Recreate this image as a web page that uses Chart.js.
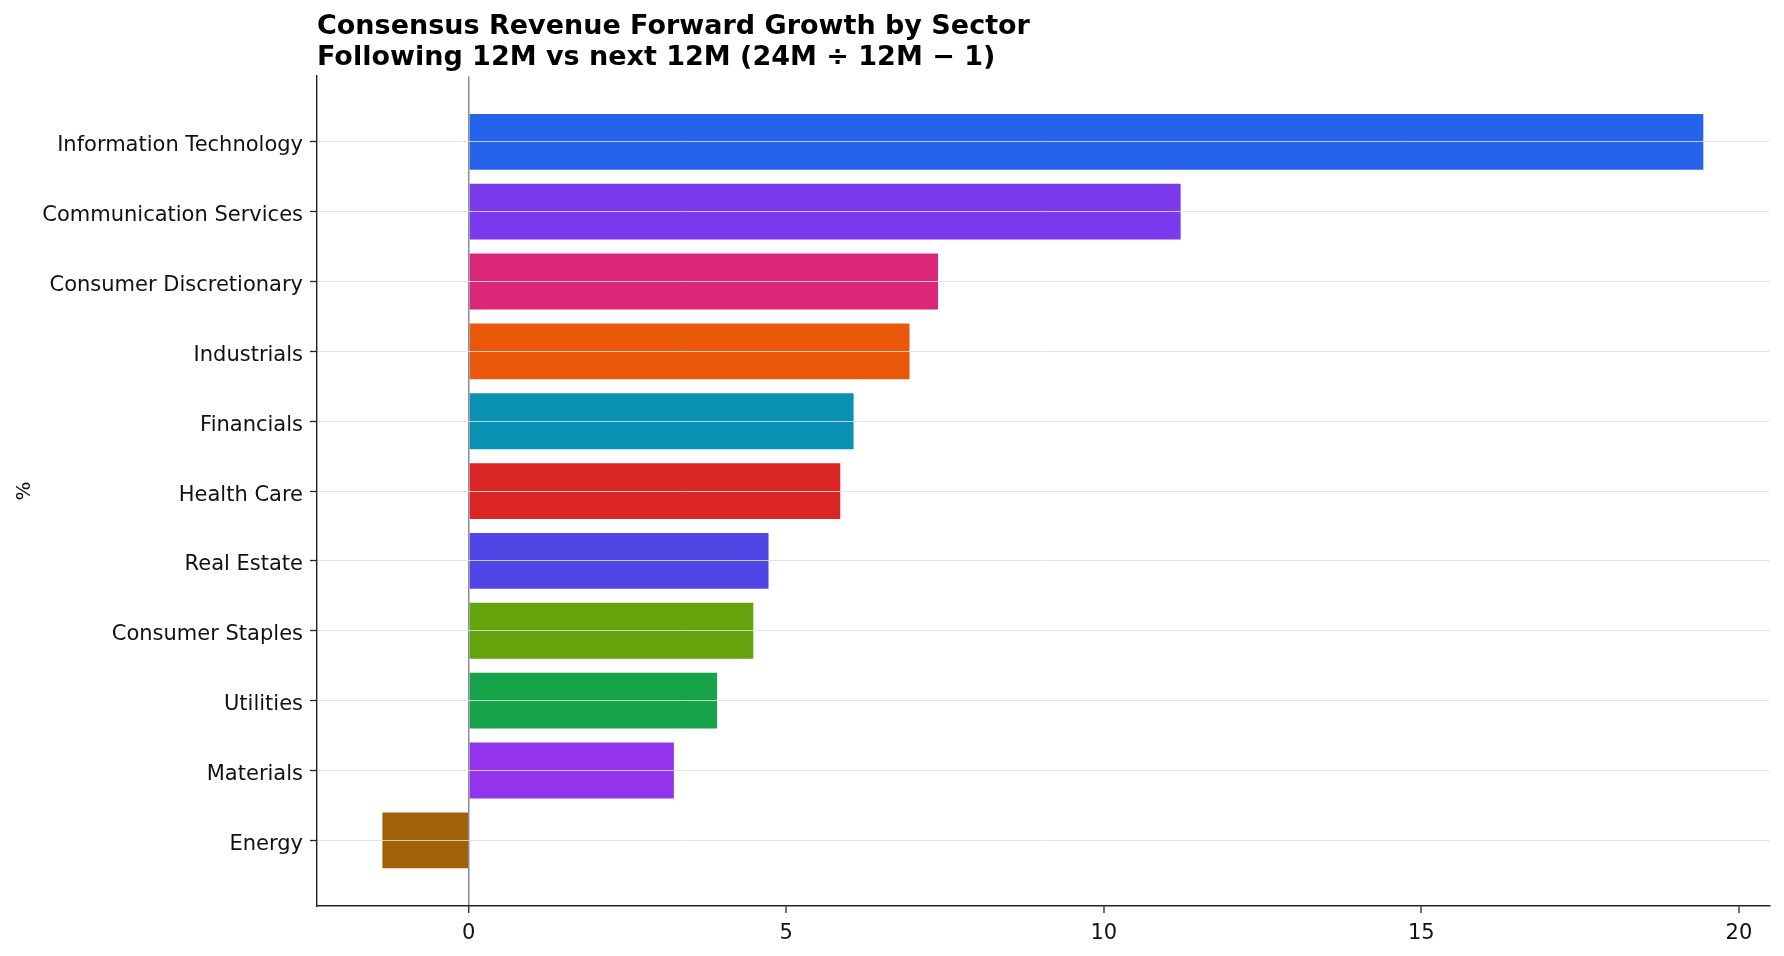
<!DOCTYPE html>
<html>
<head>
<meta charset="utf-8">
<title>Consensus Revenue Forward Growth by Sector</title>
<script src="https://cdn.jsdelivr.net/npm/chart.js@4/dist/chart.umd.min.js"></script>
<style>
  html, body { margin: 0; padding: 0; background: #fff; }
  #wrap { width: 1784px; height: 956px; }
</style>
</head>
<body>
<div id="wrap"><canvas id="chart"></canvas></div>
<script>
// data (% growth)
const sectors = [
  'Information Technology', 'Communication Services', 'Consumer Discretionary',
  'Industrials', 'Financials', 'Health Care', 'Real Estate',
  'Consumer Staples', 'Utilities', 'Materials', 'Energy'
];
const growth = [19.44, 11.21, 7.39, 6.94, 6.06, 5.85, 4.72, 4.48, 3.91, 3.23, -1.36];
const barColors = [
  '#2563eb', '#7c3aed', '#db2777', '#ea580c', '#0891b2', '#dc2626',
  '#4f46e5', '#65a30d', '#16a34a', '#9333ea', '#a16207'
];
const xTicks = [0, 5, 10, 15, 20];

const FONT = 'DejaVu Sans';

document.addEventListener('DOMContentLoaded', () => {
  new Chart(document.getElementById('chart'), {
    type: 'bar',
    data: {
      datasets: [{
        label: 'Growth',
        data: growth.map((v, i) => ({ x: v, y: i })),
        backgroundColor: barColors,
        borderWidth: 0,
        barPercentage: 0.8,
        categoryPercentage: 1.0
      }]
    },
    options: {
      indexAxis: 'y',
      responsive: true,
      maintainAspectRatio: false,
      animation: false,
      layout: { padding: { left: 0, right: 14, top: 0, bottom: 0 } },
      plugins: {
        legend: { display: false },
        tooltip: { enabled: false },
        title: {
          display: true,
          align: 'start',
          fullSize: false,
          text: ['Consensus Revenue Forward Growth by Sector',
                 'Following 12M vs next 12M (24M \u00f7 12M \u2212 1)'],
          color: '#000',
          font: { family: FONT, size: 27, weight: 'bold', lineHeight: 1.14 },
          padding: { top: 12, bottom: 2.6 }
        }
      },
      scales: {
        x: {
          type: 'linear',
          min: -2.39,
          max: 20.49,
          offset: false,
          afterBuildTicks: s => { s.ticks = xTicks.map(v => ({ value: v })); },
          afterFit: s => { s.height = 50; },
          grid: {
            z: 1,
            offset: false,
            drawOnChartArea: true,
            color: c => (c.tick && c.tick.value === 0) ? '#8a8e99' : 'rgba(0,0,0,0)',
            lineWidth: c => (c.tick && c.tick.value === 0) ? 1.5 : 0,
            tickColor: '#222',
            tickLength: 7,
            tickWidth: 1.3
          },
          border: { display: true, color: '#222', width: 1.6, z: 1 },
          ticks: {
            color: '#111',
            padding: 8,
            font: { family: FONT, size: 21 },
            callback: v => String(v)
          }
        },
        y: {
          type: 'linear',
          reverse: true,
          min: -0.94,
          max: 10.94,
          offset: false,
          afterBuildTicks: s => { s.ticks = sectors.map((_, i) => ({ value: i })); },
          afterFit: s => { s.width = 317; },
          grid: {
            z: 1,
            offset: false,
            color: 'rgba(221,221,221,0.85)',
            lineWidth: 1,
            tickColor: '#222',
            tickLength: 7,
            tickWidth: 1.3
          },
          border: { display: true, color: '#222', width: 1.4, z: 1 },
          ticks: {
            color: '#111',
            padding: 7,
            labelOffset: 4,
            font: { family: FONT, size: 21 },
            callback: v => sectors[v] !== undefined ? sectors[v] : ''
          },
          title: {
            display: true,
            text: '%',
            color: '#111',
            font: { family: FONT, size: 20 },
            padding: { top: 13, bottom: 0 }
          }
        }
      }
    }
  });
});
</script>
</body>
</html>
